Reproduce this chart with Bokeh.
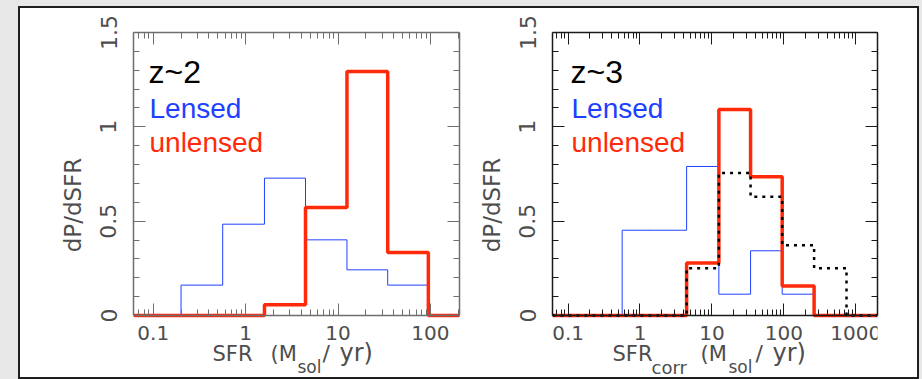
import math
from bokeh.plotting import figure
from bokeh.layouts import row, column
from bokeh.models import (Range1d, FixedTicker, NumeralTickFormatter, LogAxis,
                          LinearAxis, Label)
from bokeh.embed import file_html
from bokeh.resources import INLINE

# ---------------- data ----------------
bin_edges = [0.2, 0.565, 1.6, 4.45, 12.5, 34.5, 95, 264, 745]   # SFR bin edges (Msol/yr)
z2_lensed   = [0.161, 0.484, 0.728, 0.401, 0.242, 0.161, 0.0, 0.0]
z2_unlensed = [0.0, 0.0, 0.057, 0.572, 1.293, 0.334, 0.0, 0.0]
z3_lensed   = [0.0, 0.452, 0.452, 0.790, 0.113, 0.343, 0.113, 0.0]
z3_unlensed = [0.0, 0.0, 0.0, 0.278, 1.092, 0.735, 0.156, 0.0]
z3_corr     = [0.0, 0.0, 0.0, 0.251, 0.755, 0.629, 0.373, 0.251]

x_major_ticks = [0.1, 1, 10, 100, 1000]
x_minor_ticks = [m * d for d in [0.01, 0.1, 1, 10, 100, 1000] for m in range(2, 10)]
y_major_ticks = [0, 0.5, 1, 1.5]
y_minor_ticks = [0.1, 0.2, 0.3, 0.4, 0.6, 0.7, 0.8, 0.9, 1.1, 1.2, 1.3, 1.4]
y_axis_span = (0, 1.5)
x_span_z2 = (0.0612, 206.5)     # x extent of the z~2 box
x_span_z3 = (0.0607, 2010.0)    # x extent of the z~3 box

panel_titles = ["z~2", "z~3"]
legend_labels = ["Lensed", "unlensed"]
y_label = "dP/dSFR"

# ---------------- styling / geometry (page pixels) ----------------
BLUE = "#2040ff"
RED = "#ff2a0a"
TXT = "#4d4d4d"
PX_TOP, PX_ZERO, PX_BOTTOM = 32, 315, 377   # rows: y=1.5, y=0, bottom of the frame
PX_PER_Y = (PX_ZERO - PX_TOP) / y_axis_span[1]
Y_LO = -(PX_BOTTOM - PX_ZERO) / PX_PER_Y     # room below y=0 for the x-axis texts
Y_HI = y_axis_span[1]
FH = PX_BOTTOM - PX_TOP


def step_xy(span, heights):
    xs = [span[0]] + list(bin_edges) + [span[1]]
    ys = [0.0] + list(heights) + [0.0, 0.0]
    return xs, ys


def style_axis(ax, col):
    ax.axis_line_color = col
    ax.axis_line_width = 1.5
    ax.major_tick_line_color = col
    ax.minor_tick_line_color = col
    ax.major_tick_in = 12
    ax.major_tick_out = 0
    ax.minor_tick_in = 6
    ax.minor_tick_out = 0


def make_panel(span, frame_w, mb_left, mb_right, axis_col):
    p = figure(x_axis_type="log", x_axis_location=None, y_axis_location=None,
               x_range=Range1d(*span), y_range=Range1d(Y_LO, Y_HI),
               frame_width=frame_w, frame_height=FH,
               min_border_left=mb_left, min_border_right=mb_right,
               min_border_top=24, min_border_bottom=0,
               toolbar_location=None, output_backend="svg",
               background_fill_color="white", border_fill_color="white",
               outline_line_color=None)
    p.grid.visible = False
    xt = FixedTicker(ticks=x_major_ticks, minor_ticks=x_minor_ticks)
    yt = FixedTicker(ticks=y_major_ticks, minor_ticks=y_minor_ticks)

    # bottom axis sits on y = 0 inside the (taller) frame
    xa = LogAxis(ticker=xt, formatter=NumeralTickFormatter(format="0.[0]"),
                 fixed_location=y_axis_span[0])
    style_axis(xa, axis_col)
    xa.major_label_text_color = TXT
    xa.major_label_text_font = "DejaVu Sans"
    xa.major_label_text_font_size = "20px"
    xa.major_label_standoff = 10
    p.add_layout(xa, "below")

    ya = LinearAxis(ticker=yt, formatter=NumeralTickFormatter(format="0.[0]"), bounds=y_axis_span)
    style_axis(ya, axis_col)
    ya.major_label_text_color = TXT
    ya.major_label_text_font = "DejaVu Sans"
    ya.major_label_text_font_size = "22px"
    ya.major_label_orientation = "vertical"
    ya.major_label_standoff = 17
    ya.axis_label = y_label
    ya.axis_label_text_font = "DejaVu Sans"
    ya.axis_label_text_font_size = "23px"
    ya.axis_label_text_font_style = "normal"
    ya.axis_label_text_color = TXT
    ya.axis_label_standoff = 12
    p.add_layout(ya, "left")

    top = LogAxis(ticker=xt, major_label_text_color=None, major_label_text_font_size="0px",
                  major_label_standoff=0)
    style_axis(top, axis_col)
    p.add_layout(top, "above")
    right = LinearAxis(ticker=yt, major_label_text_color=None, major_label_text_font_size="0px",
                       major_label_standoff=0, bounds=y_axis_span)
    style_axis(right, axis_col)
    p.add_layout(right, "right")
    return p


def add_text(p, frame_left, px, py, text, size, color, font="Liberation Sans"):
    # screen units from the frame's bottom-left corner, with a baseline correction
    corr = 0.3 * size + 0.25 * max(0, size - 21)
    p.add_layout(Label(x=px - frame_left, y=(PX_BOTTOM - py) + corr,
                       x_units="screen", y_units="screen",
                       text=text, text_font=font, text_font_size=f"{size}px",
                       text_color=color, text_align="left", text_baseline="alphabetic"))


# ---------------- left panel (z~2) ----------------
p1 = make_panel(x_span_z2, 326, 113, 5, "#6e6e6e")
x, y = step_xy(x_span_z2, z2_lensed)
p1.step(x, y, mode="after", line_color=BLUE, line_width=1)
x, y = step_xy(x_span_z2, z2_unlensed)
p1.step(x, y, mode="after", line_color=RED, line_width=3.5)

o = 133
add_text(p1, o, 148, 83.5, panel_titles[0], 32, "black")
add_text(p1, o, 149, 118.5, legend_labels[0], 28, BLUE)
add_text(p1, o, 149, 152.5, legend_labels[1], 28, RED)
add_text(p1, o, 212, 360, "SFR", 21, TXT, "DejaVu Sans")
add_text(p1, o, 270, 360, "(M", 21, TXT, "DejaVu Sans")
add_text(p1, o, 297, 372, "sol", 17, TXT, "DejaVu Sans")
add_text(p1, o, 322, 360, "/", 22, TXT, "DejaVu Sans")
add_text(p1, o, 339, 360, "yr)", 24, TXT, "DejaVu Sans")

# ---------------- right panel (z~3) ----------------
p2 = make_panel(x_span_z3, 325, 88, 40, "#1a1a1a")
x, y = step_xy(x_span_z3, z3_lensed)
p2.step(x, y, mode="after", line_color=BLUE, line_width=1)
x, y = step_xy(x_span_z3, z3_unlensed)
p2.step(x, y, mode="after", line_color=RED, line_width=3.5)
x, y = step_xy(x_span_z3, z3_corr)
p2.step(x, y, mode="after", line_color="black", line_width=2.5, line_dash="3 5")

o = 552
add_text(p2, o, 570, 83.5, panel_titles[1], 32, "black")
add_text(p2, o, 571, 118.5, legend_labels[0], 28, BLUE)
add_text(p2, o, 571, 152.5, legend_labels[1], 28, RED)
add_text(p2, o, 612, 360, "SFR", 21, TXT, "DejaVu Sans")
add_text(p2, o, 651, 372, "corr", 18, TXT, "DejaVu Sans")
add_text(p2, o, 700, 360, "(M", 21, TXT, "DejaVu Sans")
add_text(p2, o, 728, 372, "sol", 17, TXT, "DejaVu Sans")
add_text(p2, o, 755, 360, "/", 22, TXT, "DejaVu Sans")
add_text(p2, o, 772, 360, "yr)", 24, TXT, "DejaVu Sans")

inner = row(p1, p2, styles={"border": "2px solid #1e1e1e", "background-color": "white"})
outer = column(inner, styles={"background-color": "#e7e7e7", "padding": "6px 3px 0px 18px"})
open("out.html", "w").write(file_html(outer, INLINE))
